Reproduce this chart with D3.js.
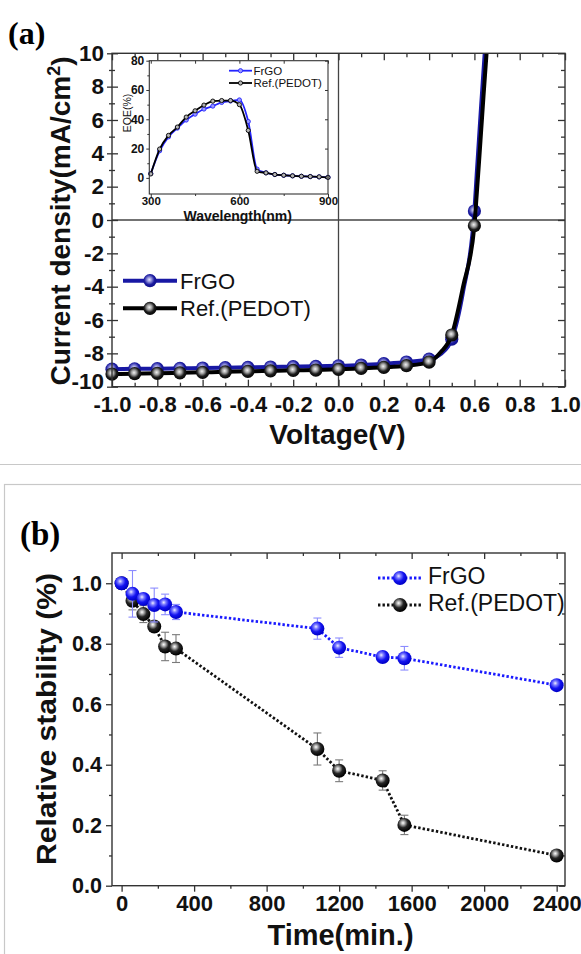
<!DOCTYPE html>
<html>
<head>
<meta charset="utf-8">
<script src="https://cdn.jsdelivr.net/npm/d3@7"></script>
<style>
  html, body { margin: 0; padding: 0; background: #fff; }
  svg { display: block; }
  text { font-family: "Liberation Sans", Arial, Helvetica, sans-serif; }
</style>
</head>
<body>
<svg id="fig" width="581" height="954"></svg>
<script>
// ---------- (a) J–V curves ----------
const jvVoltage = [-1.0, -0.9, -0.8, -0.7, -0.6, -0.5, -0.4, -0.3, -0.2, -0.1, 0.0, 0.1, 0.2, 0.3, 0.4, 0.5, 0.6];
const jvFrgo    = [-8.95, -8.93, -8.92, -8.90, -8.88, -8.86, -8.84, -8.82, -8.80, -8.78, -8.75, -8.70, -8.62, -8.52, -8.35, -7.15, 0.54];
const jvPedot   = [-9.24, -9.22, -9.20, -9.17, -9.14, -9.11, -9.08, -9.05, -9.02, -9.00, -8.96, -8.90, -8.84, -8.74, -8.52, -6.90, -0.34];
// extra readings along the curves (no markers)
const jvFrgoCurveV  = [0.45, 0.55, 0.61, 0.62, 0.63, 0.64, 0.65];
const jvFrgoCurveJ  = [-8.05, -4.3, 2.7, 4.8, 6.9, 8.9, 10.9];
const jvPedotCurveV = [0.45, 0.55, 0.61, 0.62, 0.63, 0.64, 0.65, 0.66];
const jvPedotCurveJ = [-7.95, -4.0, 1.5, 3.4, 5.4, 7.4, 9.3, 11.2];
const jvTicksX = [-1.0, -0.8, -0.6, -0.4, -0.2, 0.0, 0.2, 0.4, 0.6, 0.8, 1.0];
const jvTicksY = [-10, -8, -6, -4, -2, 0, 2, 4, 6, 8, 10];

// ---------- (a) inset: EQE ----------
const eqeWavelength = [300, 330, 360, 390, 420, 450, 480, 510, 540, 570, 600, 630, 660, 690, 720, 750, 780, 810, 840, 870, 900];
const eqeFrgo  = [3.0, 18.5, 28.0, 34.0, 39.5, 43.5, 47.0, 49.0, 51.5, 52.5, 53.2, 38.5, 6.0, 3.5, 2.3, 1.8, 1.4, 1.1, 0.9, 0.7, 0.4];
const eqePedot = [2.7, 19.7, 29.0, 34.7, 41.5, 45.8, 49.7, 52.4, 52.8, 52.8, 50.0, 32.4, 4.5, 3.4, 2.3, 1.8, 1.4, 1.1, 0.9, 0.7, 0.3];
const eqeTicksX = [300, 600, 900];
const eqeTicksY = [0, 20, 40, 60, 80];

// ---------- (b) stability ----------
const timeMin   = [0, 60, 120, 180, 240, 300, 1080, 1200, 1440, 1560, 2400];
const stabFrgo  = [1.000, 0.965, 0.948, 0.928, 0.930, 0.905, 0.850, 0.787, 0.756, 0.752, 0.663];
const errFrgo   = [0.000, 0.077, 0.012, 0.056, 0.034, 0.025, 0.035, 0.032, 0.017, 0.039, 0.008];
const stabPedot = [1.000, 0.942, 0.898, 0.857, 0.791, 0.784, 0.452, 0.380, 0.348, 0.201, 0.100];
const errPedot  = [0.000, 0.030, 0.028, 0.012, 0.047, 0.046, 0.053, 0.036, 0.032, 0.032, 0.005];
const timeTicks = [0, 400, 800, 1200, 1600, 2000, 2400];
const stabTicks = [0.0, 0.2, 0.4, 0.6, 0.8, 1.0];

const seriesNames = ["FrGO", "Ref.(PEDOT)"];

const svg = d3.select("#fig");
const defs = svg.append("defs");

// shaded "ball" markers
function ball(id, stops, cx, cy) {
  const g = defs.append("radialGradient").attr("id", id)
    .attr("cx", cx).attr("cy", cy).attr("r", "0.62").attr("fx", cx).attr("fy", cy);
  stops.forEach(([o, c]) => g.append("stop").attr("offset", o).attr("stop-color", c));
}
ball("ballBlackA", [[0, "#f2f2f2"], [0.3, "#a0a0a0"], [0.62, "#1c1c1c"], [1, "#000"]], "0.45", "0.42");
ball("ballBlueA",  [[0, "#e6e6ff"], [0.3, "#8a8ad8"], [0.62, "#1c1ca0"], [1, "#0c0c86"]], "0.45", "0.42");
ball("ballBlackB", [[0, "#ffffff"], [0.22, "#b0b0b0"], [0.55, "#262626"], [1, "#000"]], "0.40", "0.36");
ball("ballBlueB",  [[0, "#eeeeff"], [0.25, "#7c7cff"], [0.6, "#1414f0"], [1, "#0000c8"]], "0.40", "0.36");

const frameColor = "#333";

// ---------- panel labels ----------
svg.append("text").attr("x", 8).attr("y", 44)
  .style("font-family", "'Liberation Serif', 'Times New Roman', serif")
  .style("font-weight", "bold").style("font-size", "32px").text("(a)");

// separator and box around (b)
svg.append("line").attr("x1", 0).attr("x2", 581).attr("y1", 464.5).attr("y2", 464.5)
  .attr("stroke", "#c8c8c8").attr("stroke-width", 1.2);
svg.append("rect").attr("x", 4.5).attr("y", 484.5).attr("width", 640).attr("height", 600)
  .attr("fill", "none").attr("stroke", "#c8c8c8").attr("stroke-width", 1.2);

svg.append("text").attr("x", 20).attr("y", 545)
  .style("font-family", "'Liberation Serif', 'Times New Roman', serif")
  .style("font-weight", "bold").style("font-size", "33px").text("(b)");

// helper: axis group styling
function styleAxis(g, fontSize) {
  g.select(".domain").remove();
  g.selectAll(".tick line").attr("stroke", frameColor).attr("stroke-width", 1.3);
  g.selectAll(".tick text").attr("fill", "#111")
    .style("font-size", fontSize + "px").style("font-weight", "bold")
    .style("font-family", "'Liberation Sans', Arial, sans-serif");
  return g;
}
const fmt1 = v => v.toFixed(1);
const minorBetween = (ticks, n) => {
  const out = [];
  for (let i = 0; i < ticks.length - 1; i++) {
    const step = (ticks[i + 1] - ticks[i]) / n;
    for (let k = 1; k < n; k++) out.push(ticks[i] + k * step);
  }
  return out;
};

// =====================================================================
// (a) J–V
// =====================================================================
const A = { l: 112, r: 565, t: 53.3, b: 386.7 };
const xA = d3.scaleLinear().domain([-1, 1]).range([A.l, A.r]);
const yA = d3.scaleLinear().domain([-10, 10]).range([A.b, A.t]);
const gA = svg.append("g");

defs.append("clipPath").attr("id", "clipA").append("rect")
  .attr("x", A.l).attr("y", A.t).attr("width", A.r - A.l).attr("height", A.b - A.t);

// zero lines
gA.append("line").attr("x1", xA(0)).attr("x2", xA(0)).attr("y1", A.t).attr("y2", A.b)
  .attr("stroke", "#444").attr("stroke-width", 1.3);
gA.append("line").attr("x1", A.l).attr("x2", A.r).attr("y1", yA(0)).attr("y2", yA(0))
  .attr("stroke", "#444").attr("stroke-width", 1.3);

// axes
const jvMinorX = minorBetween(jvTicksX, 2);
const jvMinorY = minorBetween(jvTicksY, 2);
styleAxis(gA.append("g").attr("transform", `translate(0,${A.b})`)
  .call(d3.axisBottom(xA).tickValues(jvTicksX).tickFormat(fmt1).tickSize(-7).tickPadding(10)), 22);
styleAxis(gA.append("g").attr("transform", `translate(0,${A.b})`)
  .call(d3.axisBottom(xA).tickValues(jvMinorX).tickFormat("").tickSize(-4)), 22);
styleAxis(gA.append("g").attr("transform", `translate(0,${A.t})`)
  .call(d3.axisTop(xA).tickValues(jvTicksX).tickFormat("").tickSize(-7)), 22);
styleAxis(gA.append("g").attr("transform", `translate(0,${A.t})`)
  .call(d3.axisTop(xA).tickValues(jvMinorX).tickFormat("").tickSize(-4)), 22);
styleAxis(gA.append("g").attr("transform", `translate(${A.l},0)`)
  .call(d3.axisLeft(yA).tickValues(jvTicksY).tickFormat(d => String(d)).tickSize(5).tickPadding(3)), 22.5);
styleAxis(gA.append("g").attr("transform", `translate(${A.l},0)`)
  .call(d3.axisLeft(yA).tickValues(jvTicksY).tickFormat("").tickSize(-6)), 22.5);
styleAxis(gA.append("g").attr("transform", `translate(${A.l},0)`)
  .call(d3.axisLeft(yA).tickValues(jvMinorY).tickFormat("").tickSize(3)), 22.5);
styleAxis(gA.append("g").attr("transform", `translate(${A.l},0)`)
  .call(d3.axisLeft(yA).tickValues(jvMinorY).tickFormat("").tickSize(-3)), 22.5);
styleAxis(gA.append("g").attr("transform", `translate(${A.r},0)`)
  .call(d3.axisRight(yA).tickValues(jvTicksY).tickFormat("").tickSize(-7)), 22.5);
styleAxis(gA.append("g").attr("transform", `translate(${A.r},0)`)
  .call(d3.axisRight(yA).tickValues(jvMinorY).tickFormat("").tickSize(-4)), 22.5);
// the lowest y label sits just above the -1.0 label; nudge it up a little
gA.selectAll(".tick text").filter(d => d === -10).attr("dy", "0.1em");

// axis titles
gA.append("text").attr("x", (A.l + A.r) / 2 - 1).attr("y", 444).attr("text-anchor", "middle")
  .style("font-size", "28px").style("font-weight", "bold").attr("fill", "#111").text("Voltage(V)");
const yTitleA = gA.append("text").attr("transform", `translate(70,221) rotate(-90)`)
  .attr("text-anchor", "middle").style("font-size", "28px").style("font-weight", "bold").attr("fill", "#111");
yTitleA.append("tspan").text("Current density(mA/cm");
yTitleA.append("tspan").attr("dy", "-0.55em").style("font-size", "18px").text("2");
yTitleA.append("tspan").attr("dy", "0.4em").text(")");

// J–V lines + markers
function jvSeries(markJ, extraV, extraJ, color, grad) {
  const pts = jvVoltage.map((v, i) => [v, markJ[i]])
    .concat(extraV.map((v, i) => [v, extraJ[i]]))
    .sort((a, b) => a[0] - b[0]);
  const line = d3.line().x(d => xA(d[0])).y(d => yA(d[1])).curve(d3.curveMonotoneX);
  gA.append("path").attr("d", line(pts)).attr("fill", "none").attr("stroke", color)
    .attr("stroke-width", 4).attr("clip-path", "url(#clipA)");
  gA.append("g").selectAll("circle").data(jvVoltage).join("circle")
    .attr("cx", d => xA(d)).attr("cy", (d, i) => yA(markJ[i])).attr("r", 6.6)
    .attr("fill", `url(#${grad})`);
}
jvSeries(jvFrgo, jvFrgoCurveV, jvFrgoCurveJ, "#1818a4", "ballBlueA");
jvSeries(jvPedot, jvPedotCurveV, jvPedotCurveJ, "#000", "ballBlackA");

// legend (a)
const legA = [
  { name: seriesNames[0], color: "#1818a4", grad: "ballBlueA", y: 280.7 },
  { name: seriesNames[1], color: "#000", grad: "ballBlackA", y: 308.3 }
];
legA.forEach(d => {
  gA.append("line").attr("x1", 123).attr("x2", 177).attr("y1", d.y).attr("y2", d.y)
    .attr("stroke", d.color).attr("stroke-width", 4);
  gA.append("circle").attr("cx", 150).attr("cy", d.y).attr("r", 6.6).attr("fill", `url(#${d.grad})`);
  gA.append("text").attr("x", 180).attr("y", d.y + 8).style("font-size", "22px")
    .attr("fill", "#111").text(d.name);
});

// ---------- inset ----------
const I = { l: 149.3, r: 328, t: 60.7, b: 194 };
const xI = d3.scaleLinear().domain([295, 900]).range([I.l, I.r]);
const yI = d3.scaleLinear().domain([-11, 80]).range([I.b, I.t]);
const gI = svg.append("g");
gI.append("rect").attr("x", I.l).attr("y", I.t).attr("width", I.r - I.l).attr("height", I.b - I.t)
  .attr("fill", "#fff");
defs.append("clipPath").attr("id", "clipI").append("rect")
  .attr("x", I.l).attr("y", I.t).attr("width", I.r - I.l).attr("height", I.b - I.t);

function styleSmall(g, fs) {
  g.select(".domain").remove();
  g.selectAll(".tick line").attr("stroke", frameColor).attr("stroke-width", 1);
  g.selectAll(".tick text").attr("fill", "#111").style("font-size", fs + "px").style("font-weight", "bold");
  return g;
}
styleSmall(gI.append("g").attr("transform", `translate(0,${I.b})`)
  .call(d3.axisBottom(xI).tickValues(eqeTicksX).tickFormat(d => String(d)).tickSize(3).tickPadding(0)), 11.5);
styleSmall(gI.append("g").attr("transform", `translate(0,${I.b})`)
  .call(d3.axisBottom(xI).tickValues(minorBetween(eqeTicksX, 2)).tickFormat("").tickSize(2)), 11.5);
styleSmall(gI.append("g").attr("transform", `translate(${I.l},0)`)
  .call(d3.axisLeft(yI).tickValues(eqeTicksY).tickFormat(d => String(d)).tickSize(3).tickPadding(2)), 12);
styleSmall(gI.append("g").attr("transform", `translate(${I.l},0)`)
  .call(d3.axisLeft(yI).tickValues(minorBetween(eqeTicksY, 2)).tickFormat("").tickSize(2)), 12);
styleSmall(gI.append("g").attr("transform", `translate(0,${I.t})`)
  .call(d3.axisTop(xI).tickValues(minorBetween(eqeTicksX, 2).concat(eqeTicksX)).tickFormat("").tickSize(-3)), 12);
styleSmall(gI.append("g").attr("transform", `translate(${I.r},0)`)
  .call(d3.axisRight(yI).tickValues(eqeTicksY).tickFormat("").tickSize(-3)), 12);

gI.append("text").attr("x", (I.l + I.r) / 2 - 1).attr("y", 220.5).attr("text-anchor", "middle")
  .style("font-size", "14px").style("font-weight", "bold").attr("fill", "#111").text("Wavelength(nm)");
gI.append("text").attr("transform", "translate(131,113) rotate(-90)").attr("text-anchor", "middle")
  .style("font-size", "10.5px").attr("fill", "#111").text("EQE(%)");

function eqeSeries(vals, color, fill) {
  const line = d3.line().x((d, i) => xI(eqeWavelength[i])).y(d => yI(d)).curve(d3.curveMonotoneX);
  gI.append("path").attr("d", line(vals)).attr("fill", "none").attr("stroke", color)
    .attr("stroke-width", 1.8).attr("clip-path", "url(#clipI)");
  gI.append("g").selectAll("circle").data(vals).join("circle")
    .attr("cx", (d, i) => xI(eqeWavelength[i])).attr("cy", d => yI(d)).attr("r", 2.1)
    .attr("fill", fill).attr("stroke", color).attr("stroke-width", 0.9);
}
eqeSeries(eqeFrgo, "#2424ff", "#9a9aff");
eqeSeries(eqePedot, "#000", "#b4b4b4");

gI.append("rect").attr("x", I.l).attr("y", I.t).attr("width", I.r - I.l).attr("height", I.b - I.t)
  .attr("fill", "none").attr("stroke", frameColor).attr("stroke-width", 1.1);

const legI = [
  { name: seriesNames[0], color: "#2424ff", fill: "#9a9aff", y: 70.7 },
  { name: seriesNames[1], color: "#000", fill: "#b4b4b4", y: 83 }
];
legI.forEach(d => {
  gI.append("line").attr("x1", 229).attr("x2", 252).attr("y1", d.y).attr("y2", d.y)
    .attr("stroke", d.color).attr("stroke-width", 1.8);
  gI.append("circle").attr("cx", 240.5).attr("cy", d.y).attr("r", 2.1)
    .attr("fill", d.fill).attr("stroke", d.color).attr("stroke-width", 0.9);
  gI.append("text").attr("x", 253.5).attr("y", d.y + 4).style("font-size", "11.5px")
    .attr("fill", "#111").text(d.name);
});

// frame (a)
gA.append("rect").attr("x", A.l).attr("y", A.t).attr("width", A.r - A.l).attr("height", A.b - A.t)
  .attr("fill", "none").attr("stroke", frameColor).attr("stroke-width", 1.4);

// =====================================================================
// (b) stability
// =====================================================================
const B = { l: 112, r: 565, t: 553, b: 885.7 };
const xB = d3.scaleLinear().domain([-53, 2446]).range([B.l, B.r]);
const yB = d3.scaleLinear().domain([0, 1.1]).range([B.b, B.t]);
const gB = svg.append("g");

const timeMinor = minorBetween(timeTicks, 2);
const stabMinor = minorBetween(stabTicks, 2);
styleAxis(gB.append("g").attr("transform", `translate(0,${B.b})`)
  .call(d3.axisBottom(xB).tickValues(timeTicks).tickFormat(d => String(d)).tickSize(6).tickPadding(4)), 22);
styleAxis(gB.append("g").attr("transform", `translate(0,${B.b})`)
  .call(d3.axisBottom(xB).tickValues(timeMinor).tickFormat("").tickSize(3)), 22);
styleAxis(gB.append("g").attr("transform", `translate(0,${B.t})`)
  .call(d3.axisTop(xB).tickValues(timeTicks).tickFormat("").tickSize(-6)), 22);
styleAxis(gB.append("g").attr("transform", `translate(0,${B.t})`)
  .call(d3.axisTop(xB).tickValues(timeMinor).tickFormat("").tickSize(-3)), 22);
styleAxis(gB.append("g").attr("transform", `translate(${B.l},0)`)
  .call(d3.axisLeft(yB).tickValues(stabTicks).tickFormat(fmt1).tickSize(6).tickPadding(4)), 21.5);
styleAxis(gB.append("g").attr("transform", `translate(${B.l},0)`)
  .call(d3.axisLeft(yB).tickValues(stabMinor).tickFormat("").tickSize(3)), 21.5);
styleAxis(gB.append("g").attr("transform", `translate(${B.r},0)`)
  .call(d3.axisRight(yB).tickValues(stabTicks).tickFormat("").tickSize(-6)), 21.5);
styleAxis(gB.append("g").attr("transform", `translate(${B.r},0)`)
  .call(d3.axisRight(yB).tickValues(stabMinor).tickFormat("").tickSize(-3)), 21.5);

gB.append("text").attr("x", (B.l + B.r) / 2 + 2).attr("y", 945).attr("text-anchor", "middle")
  .style("font-size", "29px").style("font-weight", "bold").attr("fill", "#111").text("Time(min.)");
gB.append("text").attr("transform", "translate(56,719) rotate(-90)").attr("text-anchor", "middle")
  .style("font-size", "28px").style("font-weight", "bold").attr("fill", "#111")
  .attr("textLength", 292).attr("lengthAdjust", "spacingAndGlyphs")
  .text("Relative stability (%)");

function stabSeries(vals, errs, color, errColor, grad) {
  const g = gB.append("g");
  const line = d3.line().x((d, i) => xB(timeMin[i])).y(d => yB(d));
  g.append("path").attr("d", line(vals)).attr("fill", "none").attr("stroke", color)
    .attr("stroke-width", 2.8).attr("stroke-dasharray", "2.4,2.1");
  const eb = g.append("g").attr("stroke", errColor).attr("stroke-width", 1.1);
  vals.forEach((v, i) => {
    if (errs[i] <= 0) return;
    const x = xB(timeMin[i]), y1 = yB(v - errs[i]), y2 = yB(v + errs[i]);
    eb.append("line").attr("x1", x).attr("x2", x).attr("y1", y1).attr("y2", y2);
    eb.append("line").attr("x1", x - 4).attr("x2", x + 4).attr("y1", y1).attr("y2", y1);
    eb.append("line").attr("x1", x - 4).attr("x2", x + 4).attr("y1", y2).attr("y2", y2);
  });
  g.append("g").selectAll("circle").data(vals).join("circle")
    .attr("cx", (d, i) => xB(timeMin[i])).attr("cy", d => yB(d)).attr("r", 7)
    .attr("fill", `url(#${grad})`);
}
stabSeries(stabPedot, errPedot, "#111", "#7a7a7a", "ballBlackB");
stabSeries(stabFrgo, errFrgo, "#1a1aff", "#8c8cff", "ballBlueB");

const legB = [
  { name: seriesNames[0], color: "#1a1aff", grad: "ballBlueB", y: 578 },
  { name: seriesNames[1], color: "#111", grad: "ballBlackB", y: 605 }
];
legB.forEach(d => {
  gB.append("line").attr("x1", 378).attr("x2", 421).attr("y1", d.y).attr("y2", d.y)
    .attr("stroke", d.color).attr("stroke-width", 2.8).attr("stroke-dasharray", "2.4,2.1");
  gB.append("circle").attr("cx", 400).attr("cy", d.y).attr("r", 7).attr("fill", `url(#${d.grad})`);
  gB.append("text").attr("x", 428).attr("y", d.y + 6).style("font-size", "23px")
    .attr("fill", "#111").text(d.name);
});

gB.append("rect").attr("x", B.l).attr("y", B.t).attr("width", B.r - B.l).attr("height", B.b - B.t)
  .attr("fill", "none").attr("stroke", frameColor).attr("stroke-width", 1.4);
</script>
</body>
</html>
